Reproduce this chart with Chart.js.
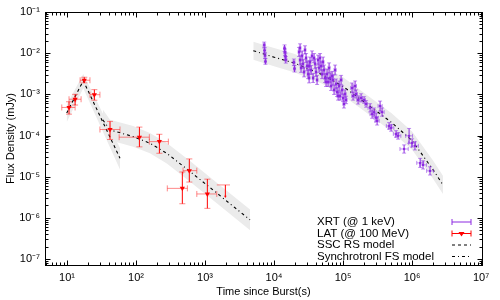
<!DOCTYPE html>
<html>
<head>
<meta charset="utf-8">
<title>Light curve</title>
<script src="https://cdn.jsdelivr.net/npm/chart.js@4.4.1/dist/chart.umd.min.js"></script>
<style>
  body { margin: 0; background: #fff; }
  #box { width: 500px; height: 300px; }
</style>
</head>
<body>
<div id="box"><canvas id="lc" width="500" height="300"></canvas></div>
<script>
// axes
const xTicks = [1e1, 1e2, 1e3, 1e4, 1e5, 1e6, 1e7];
const yTicks = [1e-7, 1e-6, 1e-5, 1e-4, 1e-3, 1e-2, 1e-1];
const xRange = [4.8, 1.03e7];
const yRange = [7.15e-8, 0.1];
const legendLabels = ["XRT (@ 1 keV)", "LAT (@ 100 MeV)", "SSC RS model", "Synchrotronl FS model"];

// LAT (@ 100 MeV)
const latTime   = [10.7, 13.1, 17.8, 24.9, 42, 112, 218, 592, 469, 1080];
const latTimeLo = [8.4, 10.7, 15.5, 21.5, 30, 57, 156, 480, 284, 760];
const latTimeHi = [13.1, 16, 21.5, 30, 58.6, 156, 294, 760, 555, 1480];
const latFlux   = [4.8e-4, 7.6e-4, 2.2e-3, 9.8e-4, 1.4e-4, 9.1e-5, 7.1e-5, 1.4e-5, 5.2e-6, 3.8e-6];
const latFluxLo = [3.3e-4, 5.5e-4, 1.9e-3, 7.2e-4, 8e-5, 5.3e-5, 3.7e-5, 7.4e-6, 2.2e-6, 1.7e-6];
const latFluxHi = [6.6e-4, 1.0e-3, 2.6e-3, 1.3e-3, 2.2e-4, 1.6e-4, 1.07e-4, 2.7e-5, 1.3e-5, 8.7e-6];

// LAT upper limit
const limTime = [1970];
const limTimeLo = [1480];
const limTimeHi = [2300];
const limTop = [6.3e-6];
const limTip = [3.3e-6];

// XRT (@ 1 keV), errors in dex
const xrtTime = [
  7200, 7300, 7400, 7500, 14200, 14400, 14600, 14800, 19400, 19800,
  23000, 23800, 24600, 25500, 26300, 27200, 29100, 30100, 31100, 33200,
  34400, 35500, 36800, 39300, 40600, 43400, 44900, 48000, 49600, 53000,
  54800, 58600, 60600, 64800, 67000, 71600, 74100, 79200, 81800, 87500,
  90500, 96700, 100000, 106900, 110500, 135000, 139600, 149300, 154300, 165000,
  182400, 201600, 215400, 246200, 263300, 281400, 300900, 311100, 343800, 367500,
  464200, 496400, 586300, 626800, 765900, 904600, 1.0e6, 1.1e6, 1.31e6, 1.44e6,
  1.82e6,
  23800, 28100, 32200, 32200, 38000, 42000, 46400, 51300, 56700, 62700,
  69300, 76600, 84700, 93600, 103000
];
const xrtFlux = [
  1.58e-2, 1.17e-2, 8.7e-3, 6.3e-3, 1.32e-2, 1.05e-2, 8.3e-3, 6.9e-3, 6.0e-3, 4.2e-3,
  1.07e-2, 6.8e-3, 4.4e-3, 8.6e-3, 5.5e-3, 3.5e-3, 7.6e-3, 4.9e-3, 3.1e-3, 6.1e-3,
  3.9e-3, 8.6e-3, 2.5e-3, 5.5e-3, 3.5e-3, 6.8e-3, 4.4e-3, 4.9e-3, 3.1e-3, 3.9e-3,
  2.5e-3, 3.1e-3, 2.0e-3, 2.5e-3, 1.6e-3, 2.24e-3, 1.28e-3, 1.79e-3, 1.14e-3, 1.6e-3,
  9.1e-4, 1.28e-3, 8.2e-4, 1.02e-3, 7.3e-4, 1.43e-3, 9.1e-4, 1.6e-3, 1.02e-3, 7.3e-4,
  8.2e-4, 7.3e-4, 5.85e-4, 4.7e-4, 3.3e-4, 3.7e-4, 2.7e-4, 2.26e-4, 5.2e-4, 3.7e-4,
  1.71e-4, 1.53e-4, 1.09e-4, 9.8e-5, 4.7e-5, 9.8e-5, 6.6e-5, 5.6e-5, 2.16e-5, 1.93e-5,
  1.38e-5,
  1.34e-2, 1.2e-2, 4.9e-3, 2.5e-3, 7.6e-3, 2.24e-3, 7.6e-3, 6.1e-3, 2.0e-3, 4.4e-3,
  2.8e-3, 3.9e-3, 9.1e-4, 2.24e-3, 5.85e-4
];
const xrtFluxErr = [
  0.07, 0.07, 0.07, 0.07, 0.08, 0.08, 0.08, 0.08, 0.08, 0.08,
  0.11, 0.12, 0.11, 0.12, 0.11, 0.12, 0.11, 0.12, 0.11, 0.12,
  0.11, 0.12, 0.11, 0.12, 0.11, 0.12, 0.11, 0.12, 0.11, 0.12,
  0.11, 0.12, 0.11, 0.12, 0.11, 0.12, 0.11, 0.12, 0.11, 0.12,
  0.1, 0.1, 0.09, 0.1, 0.09, 0.12, 0.1, 0.12, 0.1, 0.1,
  0.1, 0.08, 0.08, 0.1, 0.1, 0.1, 0.1, 0.1, 0.12, 0.1,
  0.08, 0.08, 0.08, 0.08, 0.1, 0.18, 0.1, 0.1, 0.11, 0.1,
  0.1,
  0.1, 0.1, 0.12, 0.12, 0.11, 0.11, 0.11, 0.12, 0.11, 0.12,
  0.11, 0.12, 0.1, 0.11, 0.1
];
const xrtTimeErr = [
  0.015, 0.015, 0.015, 0.015, 0.015, 0.015, 0.015, 0.015, 0.015, 0.015,
  0.012, 0.012, 0.012, 0.012, 0.012, 0.012, 0.012, 0.012, 0.012, 0.012,
  0.012, 0.012, 0.012, 0.012, 0.012, 0.012, 0.012, 0.012, 0.012, 0.012,
  0.015, 0.015, 0.015, 0.015, 0.015, 0.015, 0.015, 0.015, 0.015, 0.015,
  0.015, 0.015, 0.015, 0.015, 0.015, 0.02, 0.02, 0.02, 0.02, 0.02,
  0.02, 0.02, 0.02, 0.03, 0.03, 0.03, 0.03, 0.03, 0.03, 0.03,
  0.04, 0.04, 0.04, 0.04, 0.06, 0.05, 0.05, 0.05, 0.05, 0.05,
  0.05,
  0.012, 0.012, 0.012, 0.012, 0.012, 0.012, 0.012, 0.012, 0.015, 0.015,
  0.015, 0.015, 0.015, 0.015, 0.015
];

// SSC RS model
const sscTime  = [9.9, 17.2, 58.6];
const sscFlux  = [3.5e-4, 2.15e-3, 2.8e-5];
const sscUpper = [5.5e-4, 3.1e-3, 5.0e-5];
const sscLower = [2.1e-4, 1.4e-3, 1.5e-5];

// Synchrotron FS model, early part
const fsTime  = [33, 42, 91, 159, 279, 607, 1480, 4490];
const fsFlux  = [2.4e-4, 1.37e-4, 9.4e-5, 6.5e-5, 3.7e-5, 1.33e-5, 4.0e-6, 8.9e-7];
const fsUpper = [4.3e-4, 2.4e-4, 1.7e-4, 1.15e-4, 6.6e-5, 2.4e-5, 7.1e-6, 1.6e-6];
const fsLower = [1.35e-4, 7.7e-5, 5.3e-5, 3.7e-5, 2.1e-5, 7.5e-6, 2.25e-6, 5.0e-7];

// Synchrotron FS model, X-ray part
const xmTime  = [5000, 1e4, 2e4, 5e4, 1e5, 2e5, 5e5, 1e6, 2e6, 2.8e6];
const xmFlux  = [1.15e-2, 8e-3, 5.7e-3, 3.0e-3, 1.55e-3, 6.6e-4, 2.1e-4, 7.5e-5, 1.5e-5, 6.3e-6];
const xmUpper = [1.9e-2, 1.33e-2, 9.5e-3, 5.0e-3, 2.6e-3, 1.1e-3, 3.5e-4, 1.25e-4, 2.5e-5, 1.05e-5];
const xmLower = [6.9e-3, 4.8e-3, 3.4e-3, 1.8e-3, 9.3e-4, 4.0e-4, 1.27e-4, 4.5e-5, 9.0e-6, 3.8e-6];

const purple = "rgb(140, 40, 225)";
const purpleSoft = "rgba(150, 70, 230, 0.6)";
const red = "rgb(255, 0, 0)";
const redSoft = "rgba(255, 40, 40, 0.55)";
const bandColor = "#ebebeb";
const dashed = [3, 3];
const dashDot = [3, 3, 1, 3];

const sup = { "-": "\u207B", "0": "\u2070", "1": "\u00B9", "2": "\u00B2", "3": "\u00B3",
  "4": "\u2074", "5": "\u2075", "6": "\u2076", "7": "\u2077", "8": "\u2078", "9": "\u2079" };
function powerLabel(v) {
  const e = Math.round(Math.log10(v));
  return "10" + String(e).split("").map((c) => sup[c]).join("");
}

function pts(xs, ys) {
  return xs.map((x, i) => ({ x: x, y: ys[i] }));
}

function logMarks(min, max) {
  const out = [];
  for (let d = Math.floor(Math.log10(min)); d <= Math.ceil(Math.log10(max)); d++) {
    for (let m = 1; m <= 9; m++) {
      const v = m * Math.pow(10, d);
      if (v >= min * 0.999 && v <= max * 1.001) out.push([v, m === 1]);
    }
  }
  return out;
}

// error bars, drawn just before each data set's markers
const errorBars = {
  id: "errorBars",
  beforeDatasetDraw(chart, args) {
    const ds = chart.data.datasets[args.index];
    const e = ds.errorBars;
    if (!e) return;
    const ctx = chart.ctx, xs = chart.scales.x, ys = chart.scales.y;
    ctx.save();
    ctx.lineWidth = 1;
    ds.data.forEach((p, i) => {
      const px = xs.getPixelForValue(p.x), py = ys.getPixelForValue(p.y);
      const x0 = xs.getPixelForValue(e.xLo[i]), x1 = xs.getPixelForValue(e.xHi[i]);
      const y0 = ys.getPixelForValue(e.yLo[i]), y1 = ys.getPixelForValue(e.yHi[i]);
      const hy = e.limit ? y1 : py;
      ctx.strokeStyle = e.soft;
      ctx.beginPath();
      ctx.moveTo(x0, hy); ctx.lineTo(x1, hy);
      ctx.moveTo(x0, hy - e.cap); ctx.lineTo(x0, hy + e.cap);
      ctx.moveTo(x1, hy - e.cap); ctx.lineTo(x1, hy + e.cap);
      if (!e.limit) {
        ctx.moveTo(px - e.cap, y0); ctx.lineTo(px + e.cap, y0);
        ctx.moveTo(px - e.cap, y1); ctx.lineTo(px + e.cap, y1);
      }
      ctx.stroke();
      ctx.strokeStyle = e.color;
      ctx.beginPath();
      ctx.moveTo(px, y0); ctx.lineTo(px, y1);
      ctx.stroke();
    });
    ctx.restore();
  },
};

// gnuplot style box with inward ticks on all sides
const frame = {
  id: "frame",
  afterDraw(chart) {
    const { ctx, chartArea: a, scales: { x, y } } = chart;
    const L = Math.round(a.left) + 0.5, R = Math.round(a.right) + 0.5;
    const T = Math.round(a.top) + 0.5, B = Math.round(a.bottom) + 0.5;
    ctx.save();
    ctx.strokeStyle = "#000";
    ctx.lineWidth = 1;
    ctx.strokeRect(L, T, R - L, B - T);
    ctx.beginPath();
    logMarks(x.min, x.max).forEach(([v, major]) => {
      const px = Math.round(x.getPixelForValue(v)) + 0.5, len = major ? 5 : 3;
      ctx.moveTo(px, B); ctx.lineTo(px, B - len);
      ctx.moveTo(px, T); ctx.lineTo(px, T + len);
    });
    logMarks(y.min, y.max).forEach(([v, major]) => {
      const py = Math.round(y.getPixelForValue(v)) + 0.5, len = major ? 5 : 3;
      ctx.moveTo(L, py); ctx.lineTo(L + len, py);
      ctx.moveTo(R, py); ctx.lineTo(R - len, py);
    });
    ctx.stroke();
    ctx.restore();
  },
};

// key in the lower right corner
const key = {
  id: "key",
  afterDraw(chart) {
    const ctx = chart.ctx;
    const a = chart.chartArea;
    const tx = a.left + 272, s0 = a.right - 30, s1 = a.right - 11, sm = (s0 + s1) / 2;
    const rows = [222, 233.5, 245, 256.5];
    ctx.save();
    ctx.font = "11.5px 'Liberation Sans', Arial, sans-serif";
    ctx.fillStyle = "#000";
    ctx.textBaseline = "middle";
    ctx.textAlign = "left";
    legendLabels.forEach((t, i) => ctx.fillText(t, tx, rows[i]));
    ctx.lineWidth = 1;
    [[purple, rows[0]], [red, rows[1]]].forEach(([c, ry]) => {
      ctx.strokeStyle = c;
      ctx.beginPath();
      ctx.moveTo(s0, ry); ctx.lineTo(s1, ry);
      ctx.moveTo(s0, ry - 3); ctx.lineTo(s0, ry + 3);
      ctx.moveTo(s1, ry - 3); ctx.lineTo(s1, ry + 3);
      ctx.stroke();
    });
    ctx.fillStyle = red;
    ctx.beginPath();
    ctx.moveTo(sm - 3, rows[1] - 1.5); ctx.lineTo(sm + 3, rows[1] - 1.5); ctx.lineTo(sm, rows[1] + 3);
    ctx.closePath();
    ctx.fill();
    ctx.strokeStyle = "#000";
    [[dashed, rows[2]], [dashDot, rows[3]]].forEach(([d, ry]) => {
      ctx.setLineDash(d);
      ctx.beginPath();
      ctx.moveTo(s0, ry); ctx.lineTo(s1, ry);
      ctx.stroke();
    });
    ctx.restore();
  },
};

function band(upperT, upper, lower) {
  return [
    { type: "line", data: pts(upperT, upper), fill: "+1", backgroundColor: bandColor,
      borderWidth: 0, pointRadius: 0, tension: 0, order: 3 },
    { type: "line", data: pts(upperT, lower), fill: false, borderWidth: 0,
      pointRadius: 0, tension: 0, order: 3 },
  ];
}

function model(t, f, dash) {
  return { type: "line", data: pts(t, f), borderColor: "#000", borderWidth: 1.1,
    borderDash: dash, pointRadius: 0, tension: 0, fill: false, order: 2 };
}

const ctx = document.getElementById("lc");

const lightCurve = new Chart(ctx, {
  type: "scatter",
  data: {
    datasets: [
      {
        type: "scatter",
        label: legendLabels[0],
        data: pts(xrtTime, xrtFlux),
        pointRadius: 1.2,
        pointBackgroundColor: purple,
        pointBorderWidth: 0,
        order: 0,
        errorBars: {
          xLo: xrtTime.map((t, i) => t / Math.pow(10, xrtTimeErr[i])),
          xHi: xrtTime.map((t, i) => t * Math.pow(10, xrtTimeErr[i])),
          yLo: xrtFlux.map((f, i) => f / Math.pow(10, xrtFluxErr[i])),
          yHi: xrtFlux.map((f, i) => f * Math.pow(10, xrtFluxErr[i])),
          color: purple, soft: purpleSoft, cap: 2,
        },
      },
      {
        type: "scatter",
        label: legendLabels[1],
        data: pts(latTime, latFlux),
        pointStyle: "triangle",
        rotation: 180,
        pointRadius: 3,
        pointBackgroundColor: red,
        pointBorderWidth: 0,
        order: 0,
        errorBars: {
          xLo: latTimeLo, xHi: latTimeHi, yLo: latFluxLo, yHi: latFluxHi,
          color: red, soft: redSoft, cap: 3,
        },
      },
      {
        type: "scatter",
        data: pts(limTime, limTip),
        pointStyle: "triangle",
        rotation: 180,
        pointRadius: 1.5,
        pointBackgroundColor: red,
        pointBorderWidth: 0,
        order: 0,
        errorBars: {
          xLo: limTimeLo, xHi: limTimeHi, yLo: limTip, yHi: limTop,
          color: red, soft: redSoft, cap: 0, limit: true,
        },
      },
      model(sscTime, sscFlux, dashed),
      model(fsTime, fsFlux, dashDot),
      model(xmTime, xmFlux, dashDot),
      ...band(sscTime, sscUpper, sscLower),
      ...band(fsTime, fsUpper, fsLower),
      ...band(xmTime, xmUpper, xmLower),
    ],
  },
  options: {
    responsive: false,
    animation: false,
    devicePixelRatio: 1,
    layout: { padding: { top: 12, right: 18, left: 0, bottom: 0 } },
    plugins: {
      legend: { display: false },
      tooltip: { enabled: false },
    },
    scales: {
      x: {
        type: "logarithmic",
        min: xRange[0],
        max: xRange[1],
        afterBuildTicks: (s) => { s.ticks = xTicks.map((v) => ({ value: v })); },
        afterFit: (s) => { s.height = 35; },
        grid: { display: false, drawTicks: false },
        border: { display: false },
        ticks: {
          callback: (v) => powerLabel(v),
          color: "#000",
          padding: 6,
          maxRotation: 0,
          autoSkip: false,
          font: { family: "'Liberation Sans', Arial, sans-serif", size: 11 },
        },
        title: {
          display: true,
          text: "Time since Burst(s)",
          color: "#000",
          padding: { top: 0, bottom: 1.5 },
          font: { family: "'Liberation Sans', Arial, sans-serif", size: 11 },
        },
      },
      y: {
        type: "logarithmic",
        min: yRange[0],
        max: yRange[1],
        afterBuildTicks: (s) => { s.ticks = yTicks.map((v) => ({ value: v })); },
        afterFit: (s) => { s.width = 45; },
        grid: { display: false, drawTicks: false },
        border: { display: false },
        ticks: {
          callback: (v) => powerLabel(v),
          color: "#000",
          padding: 5,
          autoSkip: false,
          font: { family: "'Liberation Sans', Arial, sans-serif", size: 11 },
        },
        title: {
          display: true,
          text: "Flux Density (mJy)",
          color: "#000",
          padding: { top: 4.5, bottom: 0 },
          font: { family: "'Liberation Sans', Arial, sans-serif", size: 11 },
        },
      },
    },
  },
  plugins: [errorBars, frame, key],
});
</script>
</body>
</html>
